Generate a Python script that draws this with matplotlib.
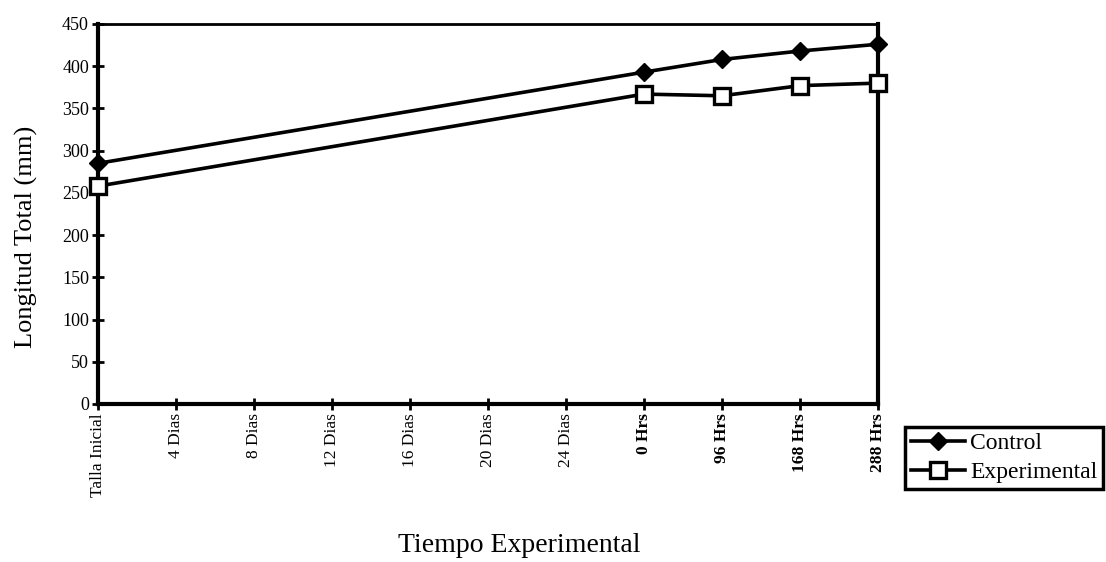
import numpy as np
import matplotlib
matplotlib.use('Agg')
import matplotlib.pyplot as plt

# categorias del eje x (Excel style, espaciado uniforme)
categorias = ['Talla Inicial', '4 Dias', '8 Dias', '12 Dias', '16 Dias', '20 Dias',
              '24 Dias', '0 Hrs', '96 Hrs', '168 Hrs', '288 Hrs']
control = [285, np.nan, np.nan, np.nan, np.nan, np.nan, np.nan, 393, 408, 418, 426]
experimental = [258, np.nan, np.nan, np.nan, np.nan, np.nan, np.nan, 367, 365, 377, 380]
yticks = np.arange(0, 451, 50)

plt.rcParams['font.family'] = ['Liberation Serif', 'DejaVu Serif']

fig = plt.figure(figsize=(11.06, 5.62), dpi=100)
ax = fig.add_axes([98 / 1106, 1 - 404 / 562, 780 / 1106, 380 / 562])

x = np.arange(len(categorias))
c = np.array(control, dtype=float)
e = np.array(experimental, dtype=float)
mc = ~np.isnan(c)
me = ~np.isnan(e)

ax.plot(x[mc], c[mc], '-', color='black', lw=2.6, marker='D', ms=9,
        mfc='black', mec='black', label='Control', clip_on=False, zorder=3)
ax.plot(x[me], e[me], '-', color='black', lw=2.6, marker='s', ms=12,
        mfc='white', mec='black', mew=2.4, label='Experimental', clip_on=False, zorder=3)

ax.set_xlim(0, len(categorias) - 1)
ax.set_ylim(0, 450)
ax.set_yticks(yticks)
ax.set_yticklabels([str(v) for v in yticks], fontsize=13)
ax.set_xticks(x)
ax.set_xticklabels(categorias, rotation=90, fontsize=12.5)
for lab in ax.get_xticklabels():
    if 'Hrs' in lab.get_text():
        lab.set_fontweight('bold')

ax.tick_params(axis='both', direction='inout', length=9, width=2, pad=2)
for s in ['left', 'bottom', 'right']:
    ax.spines[s].set_linewidth(3)
ax.spines['top'].set_linewidth(2)

fig.text(26 / 1106, 1 - 237 / 562, 'Longitud Total (mm)', fontsize=19,
         rotation=90, ha='center', va='center')
fig.text(519 / 1106, 1 - 546 / 562, 'Tiempo Experimental', fontsize=20,
         ha='center', va='center')

leg = fig.legend(loc='upper left', bbox_to_anchor=(905 / 1106, 1 - 427 / 562),
                 frameon=True, fancybox=False, edgecolor='black', framealpha=1,
                 fontsize=17, handlelength=2.3, handletextpad=0.2, borderpad=0.25,
                 labelspacing=0.3, borderaxespad=0)
leg.get_frame().set_linewidth(2.5)

fig.savefig('out.png', dpi=100, facecolor='white')
